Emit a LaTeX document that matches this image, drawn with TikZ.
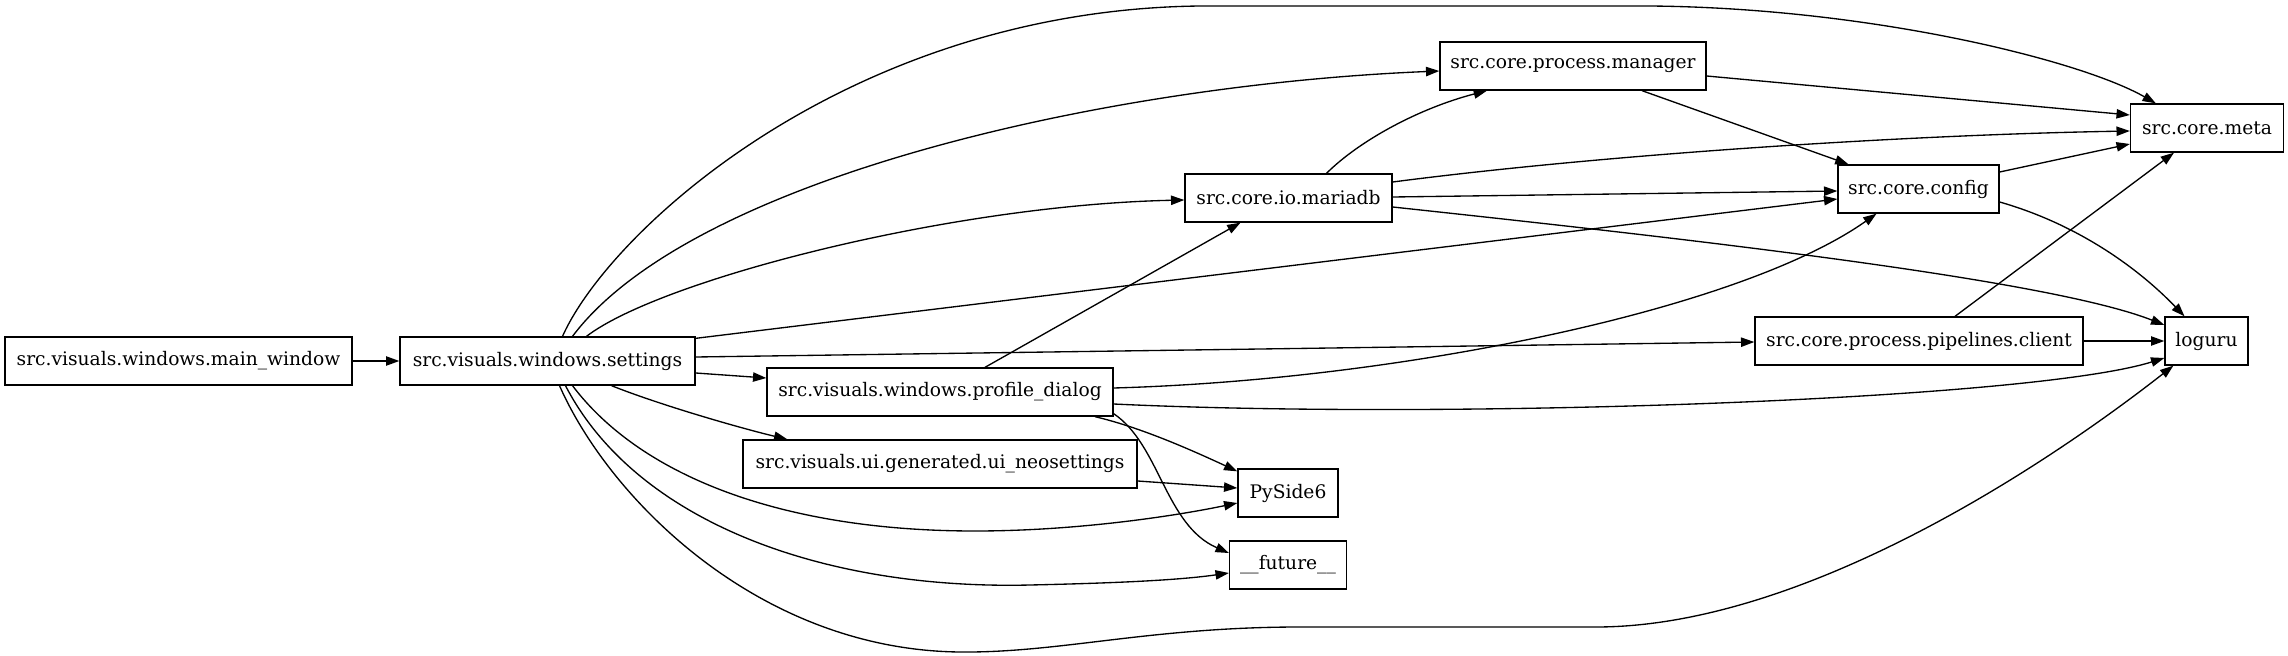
\documentclass[tikz,border=0pt]{standalone}
\usepackage{fontspec}
\setmainfont{DejaVu Serif}
\usetikzlibrary{arrows.meta,calc}
\begin{document}
\begin{tikzpicture}[x=0.75pt,y=-0.75pt,
  mod/.style={draw,line width=1pt,rectangle,minimum height=36pt,inner sep=0pt,font=\fontsize{14}{16}\selectfont},
  dep/.style={line width=1pt,-{Triangle[length=10pt,width=7pt]}}]
\fill[white] (0,0) rectangle (2288,656);
\useasboundingbox (0,0) rectangle (2288,656);
\node[mod,minimum width=260.25pt] (main) at (178.5,361) {src.visuals.windows.main\_window};
\node[mod,minimum width=221.25pt] (settings) at (547.5,361) {src.visuals.windows.settings};
\node[mod,minimum width=259.5pt] (profile) at (940,392) {src.visuals.windows.profile\_dialog};
\node[mod,minimum width=295.5pt] (neo) at (940,464) {src.visuals.ui.generated.ui\_neosettings};
\node[mod,minimum width=75pt] (pyside) at (1288,493) {PySide6};
\node[mod,minimum width=87.75pt] (future) at (1288,565) {\_\_future\_\_};
\node[mod,minimum width=155.25pt] (mariadb) at (1288.5,198) {src.core.io.mariadb};
\node[mod,minimum width=199.5pt] (manager) at (1573,66) {src.core.process.manager};
\node[mod,minimum width=120.75pt] (config) at (1918.5,189) {src.core.config};
\node[mod,minimum width=246pt] (pipelines) at (1919,341) {src.core.process.pipelines.client};
\node[mod,minimum width=114.75pt] (meta) at (2207,128) {src.core.meta};
\node[mod,minimum width=62.25pt] (loguru) at (2206.5,341) {loguru};

\draw[dep] (main) -- (settings);
% settings
\draw[dep] ($(settings.north)+(15,0)$) .. controls (610,230) and (850,10) .. (1200,6) -- (1650,6) .. controls (1870,8) and (2080,60) .. ($(meta.north west)+(26,0)$);
\draw[dep] ($(settings.north)+(25,0)$) .. controls (690,180) and (1100,85) .. ($(manager.west)+(0,5)$);
\draw[dep] ($(settings.north)+(39,0)$) .. controls (660,280) and (950,205) .. ($(mariadb.west)+(0,2)$);
\draw[dep] ($(settings.north east)+(0,2)$) -- ($(config.west)+(0,10)$);
\draw[dep] ($(settings.east)+(0,-4)$) -- ($(pipelines.west)+(0,1)$);
\draw[dep] ($(settings.east)+(0,12)$) -- ($(profile.west)+(0,-14)$);
\draw[dep] ($(settings.south)+(64,0)$) .. controls (660,405) and (740,428) .. ($(neo.north west)+(45,0)$);
\draw[dep] ($(settings.south)+(25,0)$) .. controls (640,475) and (780,531) .. (975,531) .. controls (1080,531) and (1180,515) .. ($(pyside.west)+(0,10)$);
\draw[dep] ($(settings.south)+(18,0)$) .. controls (635,520) and (820,590) .. (1030,585) .. controls (1120,583) and (1180,580) .. ($(future.west)+(0,8)$);
\draw[dep] ($(settings.south)+(12,0)$) .. controls (610,500) and (760,650) .. (960,652) .. controls (1060,653) and (1150,627) .. (1300,627) -- (1596,627) .. controls (1800,627) and (2040,470) .. ($(loguru.south west)+(9,0)$);
% profile dialog
\draw[dep] ($(profile.north)+(45,0)$) -- ($(mariadb.south)+(-48,0)$);
\draw[dep] ($(profile.east)+(0,-4)$) .. controls (1400,380) and (1740,310) .. ($(config.south)+(-42,0)$);
\draw[dep] ($(profile.east)+(0,12)$) .. controls (1450,420) and (2030,400) .. ($(loguru.west)+(0,17)$);
\draw[dep] ($(profile.south)+(155,0)$) .. controls (1130,425) and (1170,440) .. ($(pyside.north west)+(0,3)$);
\draw[dep] ($(profile.south east)+(0,-3)$) .. controls (1160,445) and (1165,525) .. ($(future.west)+(0,-12)$);
% neosettings
\draw[dep] ($(neo.east)+(0,17)$) -- ($(pyside.west)+(0,-5)$);
% mariadb
\draw[dep] ($(mariadb.north)+(38,0)$) .. controls (1360,140) and (1420,108) .. ($(manager.south)+(-86,0)$);
\draw[dep] ($(mariadb.east)+(0,-16)$) .. controls (1600,155) and (1900,135) .. ($(meta.west)+(0,3)$);
\draw[dep] ($(mariadb.east)+(0,-1)$) -- ($(config.west)+(0,2)$);
\draw[dep] ($(mariadb.east)+(0,9)$) .. controls (1700,240) and (2050,280) .. ($(loguru.west)+(0,-16)$);
% manager
\draw[dep] ($(manager.east)+(0,10)$) -- ($(meta.west)+(0,-13)$);
\draw[dep] ($(manager.south)+(69,0)$) -- ($(config.north)+(-70,0)$);
% config
\draw[dep] ($(config.east)+(0,-17)$) -- ($(meta.west)+(0,16)$);
\draw[dep] ($(config.east)+(0,13)$) .. controls (2080,225) and (2140,270) .. ($(loguru.north)+(-22,0)$);
% pipelines
\draw[dep] ($(pipelines.north)+(36,0)$) -- ($(meta.south)+(-33,0)$);
\draw[dep] (pipelines) -- (loguru);
\end{tikzpicture}
\end{document}
